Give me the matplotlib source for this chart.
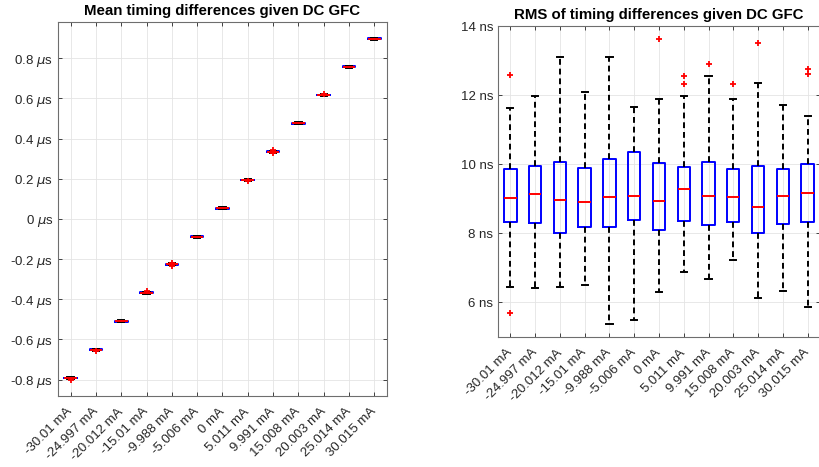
import matplotlib
matplotlib.use("Agg")
import matplotlib.pyplot as plt
import matplotlib.transforms as mtransforms

plt.rcParams['font.family'] = ['Liberation Sans', 'DejaVu Sans']
plt.rcParams['mathtext.fontset'] = 'dejavusans'

# DC ground fault currents (x categories)
currents = ['-30.01 mA', '-24.997 mA', '-20.012 mA', '-15.01 mA', '-9.988 mA',
            '-5.006 mA', '0 mA', '5.011 mA', '9.991 mA', '15.008 mA',
            '20.003 mA', '25.014 mA', '30.015 mA']

# mean timing differences (us) - very tight boxes
mean_med = [-0.792, -0.652, -0.509, -0.368, -0.227, -0.088, 0.053,
            0.194, 0.335, 0.476, 0.617, 0.758, 0.897]
mean_q1 = [-0.794, -0.654, -0.511, -0.370, -0.229, -0.090, 0.051,
           0.192, 0.333, 0.474, 0.615, 0.756, 0.895]
mean_q3 = [-0.790, -0.650, -0.507, -0.366, -0.225, -0.086, 0.055,
           0.196, 0.337, 0.478, 0.619, 0.760, 0.899]
mean_lo = [-0.797, -0.657, -0.514, -0.373, -0.232, -0.093, 0.048,
           0.189, 0.330, 0.471, 0.612, 0.753, 0.892]
mean_hi = [-0.787, -0.647, -0.504, -0.363, -0.222, -0.083, 0.058,
           0.199, 0.340, 0.481, 0.622, 0.763, 0.902]
mean_out = [[-0.800], [-0.658], [], [-0.361], [-0.219, -0.234], [], [],
            [0.187], [0.343, 0.327], [], [0.624], [], []]

# RMS of timing differences (ns)
rms_med = [9.02, 9.13, 8.97, 8.91, 9.06, 9.09, 8.93, 9.28, 9.09, 9.06, 8.77, 9.09, 9.17]
rms_q1 = [8.33, 8.31, 8.00, 8.18, 8.18, 8.39, 8.10, 8.37, 8.23, 8.34, 8.00, 8.28, 8.33]
rms_q3 = [9.88, 9.94, 10.08, 9.89, 10.17, 10.37, 10.03, 9.92, 10.08, 9.86, 9.94, 9.87, 10.01]
rms_lo = [6.44, 6.41, 6.46, 6.50, 5.39, 5.50, 6.30, 6.89, 6.68, 7.23, 6.13, 6.34, 5.88]
rms_hi = [11.62, 11.97, 13.10, 12.09, 13.10, 11.66, 11.89, 11.99, 12.55, 11.89, 12.37, 11.72, 11.41]
rms_out = [[12.59, 5.70], [], [], [], [], [], [13.62], [12.57, 12.34], [12.90],
           [12.32], [13.51], [], [12.76, 12.62]]

TXT = '#262626'


def make_stats(med, q1, q3, lo, hi, out):
    stats = []
    for i in range(len(med)):
        stats.append(dict(med=med[i], q1=q1[i], q3=q3[i],
                          whislo=lo[i], whishi=hi[i], fliers=out[i]))
    return stats


def draw_boxes(ax, stats):
    ax.bxp(stats, positions=range(1, len(stats) + 1), widths=0.5, capwidths=0.25,
           boxprops=dict(color='blue', lw=1.4),
           medianprops=dict(color='red', lw=1.4),
           whiskerprops=dict(color='black', lw=1.4, linestyle=(0, (3, 2))),
           capprops=dict(color='black', lw=1.4),
           flierprops=dict(marker='+', markeredgecolor='red', markersize=5,
                           markeredgewidth=1.3, linestyle='none'))


def style_axes(ax, title, fig):
    ax.set_xlim(0.5, 13.5)
    ax.set_xticks(range(1, 14))
    ax.set_xticklabels(currents, rotation=45, ha='right', va='center',
                       rotation_mode='anchor', fontsize=9.5, color=TXT)
    offset = mtransforms.ScaledTranslation(5 / 100, 0, fig.dpi_scale_trans)
    for lbl in ax.get_xticklabels():
        lbl.set_transform(lbl.get_transform() + offset)
    ax.tick_params(axis='x', pad=10)
    ax.tick_params(direction='in', length=3, width=0.6, colors=TXT,
                   top=True, right=True)
    ax.tick_params(axis='y', labelsize=9.5)
    ax.grid(True, color='#e4e4e4', lw=0.6)
    ax.set_axisbelow(True)
    for sp in ax.spines.values():
        sp.set_color('#6e6e6e')
        sp.set_linewidth(0.8)
    ax.set_title(title, fontsize=10.8, fontweight='bold', pad=5)


fig = plt.figure(figsize=(8.2, 4.67), dpi=100)

ax1 = fig.add_axes([0.0707, 0.152, 0.4012, 0.8015])
draw_boxes(ax1, make_stats(mean_med, mean_q1, mean_q3, mean_lo, mean_hi, mean_out))
ax1.set_ylim(-0.882, 0.982)
yt = [-0.8, -0.6, -0.4, -0.2, 0, 0.2, 0.4, 0.6, 0.8]
ax1.set_yticks(yt)
ax1.set_yticklabels([f'{v:g} $\\mu$s' for v in yt])
style_axes(ax1, 'Mean timing differences given DC GFC', fig)

ax2 = fig.add_axes([0.6073, 0.2784, 0.3927, 0.6653])
draw_boxes(ax2, make_stats(rms_med, rms_q1, rms_q3, rms_lo, rms_hi, rms_out))
ax2.set_ylim(5, 14)
yt2 = [6, 8, 10, 12, 14]
ax2.set_yticks(yt2)
ax2.set_yticklabels([f'{v} ns' for v in yt2])
style_axes(ax2, 'RMS of timing differences given DC GFC', fig)

fig.savefig('out.png', dpi=100)
